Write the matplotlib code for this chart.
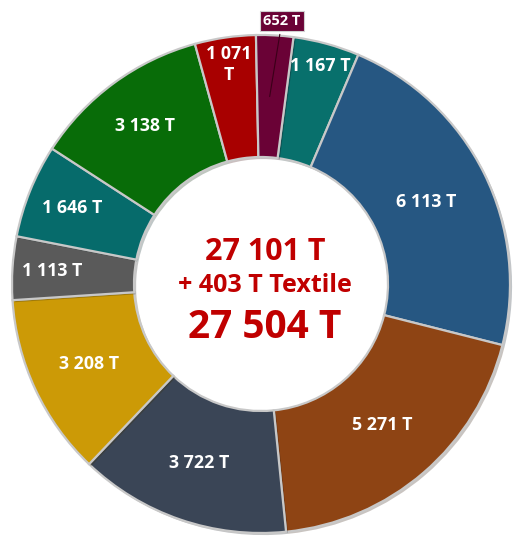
import matplotlib
matplotlib.use('Agg')
import matplotlib.pyplot as plt
import matplotlib.patheffects as pe
import numpy as np

plt.rcParams['font.family'] = ['Open Sans', 'DejaVu Sans']

# data, clockwise starting just right of 12 o'clock
values = [1167, 6113, 5271, 3722, 3208, 1113, 1646, 3138, 1071, 652]
labels = ['1 167 T', '6 113 T', '5 271 T', '3 722 T', '3 208 T',
          '1 113 T', '1 646 T', '3 138 T', '1 071\nT', '652 T']
colors = ['#08706c', '#265782', '#8e4414', '#3a4556', '#cc9a06',
          '#5a5a5a', '#066b6b', '#086c08', '#a80000', '#6a0236']
total_label = '27 101 T'
extra_label = '+ 403 T Textile'
grand_label = '27 504 T'

# label distance from centre (px), last one sits outside in a box
label_r = [226, 184, 186, 189, 190, 209, 204, 196, 222, None]

W, H = 514, 536
cx, cy = 261, H - 284
R = 249
ring = 0.49

fig = plt.figure(figsize=(W / 100, H / 100), dpi=100)
ax = fig.add_axes([0, 0, 1, 1])

wedges, _ = ax.pie(values, colors=colors, startangle=90 - 7.5, counterclock=False,
                   radius=R, center=(cx, cy), frame=True,
                   wedgeprops=dict(width=R * ring, edgecolor='#c8c8c8', linewidth=1.6))
for w in wedges:
    w.set_path_effects([pe.SimplePatchShadow(offset=(1.5, -1.5), alpha=0.25), pe.Normal()])
ax.set_xlim(0, W)
ax.set_ylim(0, H)
ax.axis('off')

for w, lab, r in zip(wedges, labels, label_r):
    mid = np.deg2rad((w.theta1 + w.theta2) / 2)
    if r is None:
        # small slice: boxed label above with a leader line
        x0 = cx + 185 * np.cos(mid)
        y0 = cy + 185 * np.sin(mid)
        ax.annotate(lab, xy=(x0 - 2, y0), xytext=(cx + 21, H - 21),
                    ha='center', va='center', color='white', fontsize=10.5, fontweight='bold',
                    bbox=dict(boxstyle='square,pad=0.22', fc=w.get_facecolor(), ec='#d0d0d0', lw=0.8),
                    arrowprops=dict(arrowstyle='-', color='#3a0018', lw=0.8))
        continue
    x = cx + r * np.cos(mid)
    y = cy + r * np.sin(mid)
    ax.text(x, y, lab, ha='center', va='center', color='white', fontsize=12.8,
            fontweight='bold', linespacing=1.2)

red = '#c00000'
ax.text(265, H - 252, total_label, ha='center', va='center', color=red,
        fontsize=22, fontweight='bold')
ax.text(265, H - 285, extra_label, ha='center', va='center', color=red,
        fontsize=18, fontweight='bold')
ax.text(265, H - 327, grand_label, ha='center', va='center', color=red,
        fontsize=28, fontweight='bold')

fig.savefig('out.png', dpi=100)
